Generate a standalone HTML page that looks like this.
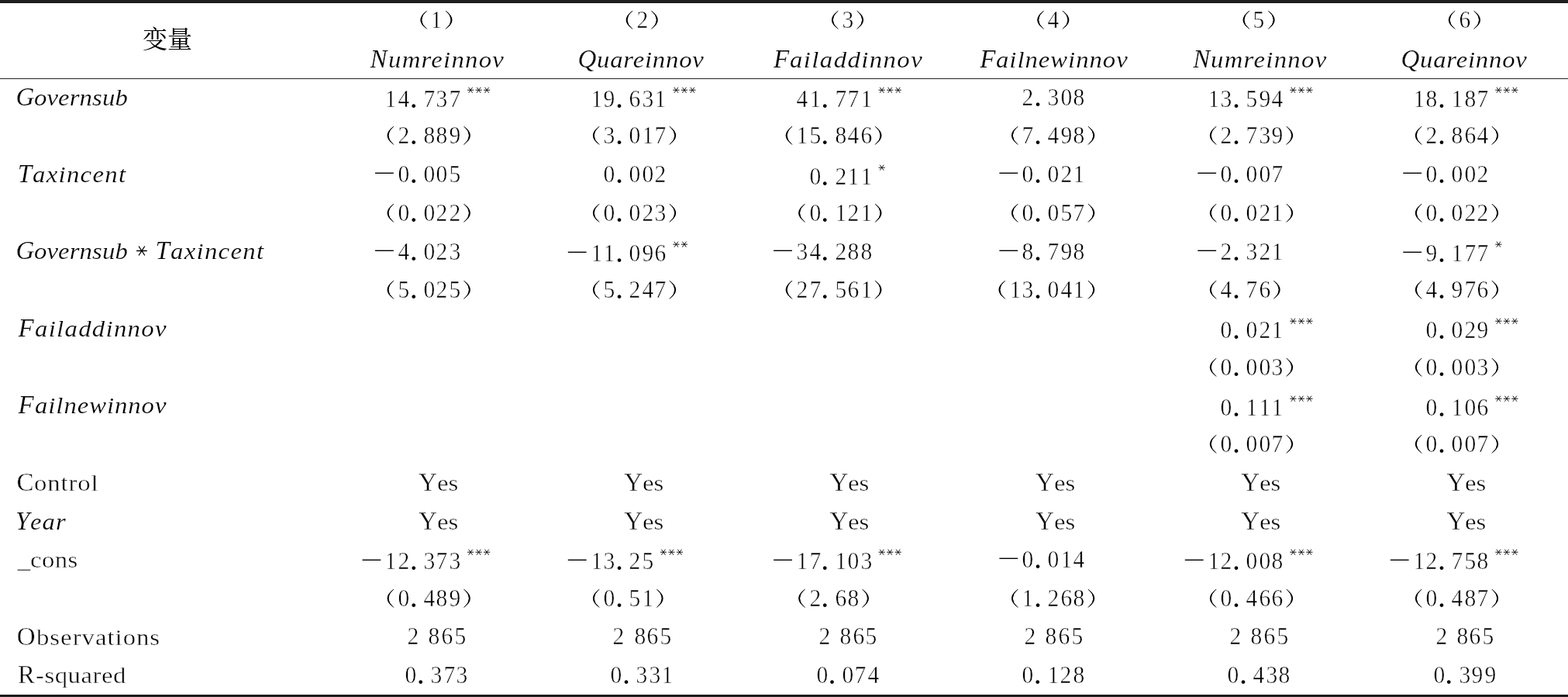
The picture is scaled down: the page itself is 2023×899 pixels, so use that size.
<!DOCTYPE html>
<html><head><meta charset="utf-8"><title>Regression results</title>
<style>
html,body{margin:0;padding:0;background:#fff}
body{position:relative;width:2023px;height:899px;overflow:hidden;font-family:"Liberation Serif",serif;color:#000}
.d,.t,.s,.bar{position:absolute;display:block}
.d{width:40px;text-align:center;white-space:pre;font-family:"Liberation Serif",serif;font-size:32.4px;line-height:32.4px;transform:scaleX(0.91)}
.t{white-space:pre;font-family:"Liberation Serif",serif;font-size:33px;line-height:33px}
.bar{background:#000}
.lc{font-size:30.0px;display:inline-block;transform:scaleX(1.09);transform-origin:0 50%}
.s{overflow:visible}
.k{fill:none;stroke:#000;stroke-linecap:round}
#w{position:absolute;left:0;top:0;width:2023px;height:899px;will-change:transform}
.d{-webkit-text-stroke:0.5px #fff}
.t{-webkit-text-stroke:0.45px #fff}
.i{font-style:italic;-webkit-text-stroke:0.2px #fff}
.p{-webkit-text-stroke:0;font-size:40.0px;line-height:40.0px;transform:none}
</style></head><body><div id="w">
<i class="bar" style="left:0;top:0;width:2023px;height:3px;background:#202020"></i>
<i class="bar" style="left:0;top:3px;width:2023px;height:1px;background:#101010"></i>
<i class="bar" style="left:0;top:4px;width:2023px;height:1px;background:#f4f4f4"></i>
<i class="bar" style="left:0;top:100.6px;width:2023px;height:1.3px;background:#222"></i>
<i class="bar" style="left:0;top:895px;width:2023px;height:1px;background:#f4f4f4"></i>
<i class="bar" style="left:0;top:896px;width:2023px;height:1px;background:#101010"></i>
<i class="bar" style="left:0;top:897px;width:2023px;height:2px;background:#202020"></i>
<span class="d" style="left:543.20px;top:9.10px">1</span>
<span class="d" style="left:808.50px;top:9.10px">2</span>
<span class="d" style="left:1073.80px;top:9.10px">3</span>
<span class="d" style="left:1339.10px;top:9.10px">4</span>
<span class="d" style="left:1604.40px;top:9.10px">5</span>
<span class="d" style="left:1869.70px;top:9.10px">6</span>
<span class="t i" style="left:477.48px;top:60.30px;letter-spacing:1.172px;">N<span class="lc">umreinnov</span></span>
<span class="t i" style="left:745.44px;top:60.30px;letter-spacing:0.741px;">Q<span class="lc">uareinnov</span></span>
<span class="t i" style="left:997.92px;top:60.30px;letter-spacing:1.324px;">F<span class="lc">ailaddinnov</span></span>
<span class="t i" style="left:1264.22px;top:60.30px;letter-spacing:0.901px;">F<span class="lc">ailnewinnov</span></span>
<span class="t i" style="left:1539.17px;top:60.30px;letter-spacing:1.213px;">N<span class="lc">umreinnov</span></span>
<span class="t i" style="left:1807.44px;top:60.30px;letter-spacing:0.741px;">Q<span class="lc">uareinnov</span></span>
<span class="t i" style="left:20.47px;top:109.30px;letter-spacing:0.113px;">G<span class="lc">overnsub</span></span>
<span class="d" style="left:484.40px;top:111.00px">1</span>
<span class="d" style="left:500.90px;top:111.00px">4</span>
<span class="d p" style="left:513.70px;top:105.60px">.</span>
<span class="d" style="left:533.90px;top:111.00px">7</span>
<span class="d" style="left:550.40px;top:111.00px">3</span>
<span class="d" style="left:566.90px;top:111.00px">7</span>
<span class="d" style="left:749.70px;top:111.00px">1</span>
<span class="d" style="left:766.20px;top:111.00px">9</span>
<span class="d p" style="left:779.00px;top:105.60px">.</span>
<span class="d" style="left:799.20px;top:111.00px">6</span>
<span class="d" style="left:815.70px;top:111.00px">3</span>
<span class="d" style="left:832.20px;top:111.00px">1</span>
<span class="d" style="left:1015.00px;top:111.00px">4</span>
<span class="d" style="left:1031.50px;top:111.00px">1</span>
<span class="d p" style="left:1044.30px;top:105.60px">.</span>
<span class="d" style="left:1064.50px;top:111.00px">7</span>
<span class="d" style="left:1081.00px;top:111.00px">7</span>
<span class="d" style="left:1097.50px;top:111.00px">1</span>
<span class="d" style="left:1306.30px;top:109.00px">2</span>
<span class="d p" style="left:1319.10px;top:103.60px">.</span>
<span class="d" style="left:1339.30px;top:109.00px">3</span>
<span class="d" style="left:1355.80px;top:109.00px">0</span>
<span class="d" style="left:1372.30px;top:109.00px">8</span>
<span class="d" style="left:1545.70px;top:111.00px">1</span>
<span class="d" style="left:1562.20px;top:111.00px">3</span>
<span class="d p" style="left:1575.00px;top:105.60px">.</span>
<span class="d" style="left:1595.20px;top:111.00px">5</span>
<span class="d" style="left:1611.70px;top:111.00px">9</span>
<span class="d" style="left:1628.20px;top:111.00px">4</span>
<span class="d" style="left:1810.70px;top:111.00px">1</span>
<span class="d" style="left:1827.20px;top:111.00px">8</span>
<span class="d p" style="left:1840.00px;top:105.60px">.</span>
<span class="d" style="left:1860.20px;top:111.00px">1</span>
<span class="d" style="left:1876.70px;top:111.00px">8</span>
<span class="d" style="left:1893.20px;top:111.00px">7</span>
<span class="d" style="left:500.90px;top:158.00px">2</span>
<span class="d p" style="left:513.70px;top:152.60px">.</span>
<span class="d" style="left:533.90px;top:158.00px">8</span>
<span class="d" style="left:550.40px;top:158.00px">8</span>
<span class="d" style="left:566.90px;top:158.00px">9</span>
<span class="d" style="left:766.20px;top:158.00px">3</span>
<span class="d p" style="left:779.00px;top:152.60px">.</span>
<span class="d" style="left:799.20px;top:158.00px">0</span>
<span class="d" style="left:815.70px;top:158.00px">1</span>
<span class="d" style="left:832.20px;top:158.00px">7</span>
<span class="d" style="left:1015.00px;top:158.00px">1</span>
<span class="d" style="left:1031.50px;top:158.00px">5</span>
<span class="d p" style="left:1044.30px;top:152.60px">.</span>
<span class="d" style="left:1064.50px;top:158.00px">8</span>
<span class="d" style="left:1081.00px;top:158.00px">4</span>
<span class="d" style="left:1097.50px;top:158.00px">6</span>
<span class="d" style="left:1306.30px;top:158.00px">7</span>
<span class="d p" style="left:1319.10px;top:152.60px">.</span>
<span class="d" style="left:1339.30px;top:158.00px">4</span>
<span class="d" style="left:1355.80px;top:158.00px">9</span>
<span class="d" style="left:1372.30px;top:158.00px">8</span>
<span class="d" style="left:1562.20px;top:158.00px">2</span>
<span class="d p" style="left:1575.00px;top:152.60px">.</span>
<span class="d" style="left:1595.20px;top:158.00px">7</span>
<span class="d" style="left:1611.70px;top:158.00px">3</span>
<span class="d" style="left:1628.20px;top:158.00px">9</span>
<span class="d" style="left:1827.20px;top:158.00px">2</span>
<span class="d p" style="left:1840.00px;top:152.60px">.</span>
<span class="d" style="left:1860.20px;top:158.00px">8</span>
<span class="d" style="left:1876.70px;top:158.00px">6</span>
<span class="d" style="left:1893.20px;top:158.00px">4</span>
<span class="t i" style="left:22.67px;top:208.00px;letter-spacing:1.221px;">T<span class="lc">axincent</span></span>
<span class="d" style="left:500.90px;top:208.00px">0</span>
<span class="d p" style="left:513.70px;top:202.60px">.</span>
<span class="d" style="left:533.90px;top:208.00px">0</span>
<span class="d" style="left:550.40px;top:208.00px">0</span>
<span class="d" style="left:566.90px;top:208.00px">5</span>
<span class="d" style="left:766.20px;top:208.00px">0</span>
<span class="d p" style="left:779.00px;top:202.60px">.</span>
<span class="d" style="left:799.20px;top:208.00px">0</span>
<span class="d" style="left:815.70px;top:208.00px">0</span>
<span class="d" style="left:832.20px;top:208.00px">2</span>
<span class="d" style="left:1031.50px;top:211.00px">0</span>
<span class="d p" style="left:1044.30px;top:205.60px">.</span>
<span class="d" style="left:1064.50px;top:211.00px">2</span>
<span class="d" style="left:1081.00px;top:211.00px">1</span>
<span class="d" style="left:1097.50px;top:211.00px">1</span>
<span class="d" style="left:1306.30px;top:208.00px">0</span>
<span class="d p" style="left:1319.10px;top:202.60px">.</span>
<span class="d" style="left:1339.30px;top:208.00px">0</span>
<span class="d" style="left:1355.80px;top:208.00px">2</span>
<span class="d" style="left:1372.30px;top:208.00px">1</span>
<span class="d" style="left:1562.20px;top:208.00px">0</span>
<span class="d p" style="left:1575.00px;top:202.60px">.</span>
<span class="d" style="left:1595.20px;top:208.00px">0</span>
<span class="d" style="left:1611.70px;top:208.00px">0</span>
<span class="d" style="left:1628.20px;top:208.00px">7</span>
<span class="d" style="left:1827.20px;top:208.00px">0</span>
<span class="d p" style="left:1840.00px;top:202.60px">.</span>
<span class="d" style="left:1860.20px;top:208.00px">0</span>
<span class="d" style="left:1876.70px;top:208.00px">0</span>
<span class="d" style="left:1893.20px;top:208.00px">2</span>
<span class="d" style="left:500.90px;top:258.00px">0</span>
<span class="d p" style="left:513.70px;top:252.60px">.</span>
<span class="d" style="left:533.90px;top:258.00px">0</span>
<span class="d" style="left:550.40px;top:258.00px">2</span>
<span class="d" style="left:566.90px;top:258.00px">2</span>
<span class="d" style="left:766.20px;top:258.00px">0</span>
<span class="d p" style="left:779.00px;top:252.60px">.</span>
<span class="d" style="left:799.20px;top:258.00px">0</span>
<span class="d" style="left:815.70px;top:258.00px">2</span>
<span class="d" style="left:832.20px;top:258.00px">3</span>
<span class="d" style="left:1031.50px;top:258.00px">0</span>
<span class="d p" style="left:1044.30px;top:252.60px">.</span>
<span class="d" style="left:1064.50px;top:258.00px">1</span>
<span class="d" style="left:1081.00px;top:258.00px">2</span>
<span class="d" style="left:1097.50px;top:258.00px">1</span>
<span class="d" style="left:1306.30px;top:258.00px">0</span>
<span class="d p" style="left:1319.10px;top:252.60px">.</span>
<span class="d" style="left:1339.30px;top:258.00px">0</span>
<span class="d" style="left:1355.80px;top:258.00px">5</span>
<span class="d" style="left:1372.30px;top:258.00px">7</span>
<span class="d" style="left:1562.20px;top:258.00px">0</span>
<span class="d p" style="left:1575.00px;top:252.60px">.</span>
<span class="d" style="left:1595.20px;top:258.00px">0</span>
<span class="d" style="left:1611.70px;top:258.00px">2</span>
<span class="d" style="left:1628.20px;top:258.00px">1</span>
<span class="d" style="left:1827.20px;top:258.00px">0</span>
<span class="d p" style="left:1840.00px;top:252.60px">.</span>
<span class="d" style="left:1860.20px;top:258.00px">0</span>
<span class="d" style="left:1876.70px;top:258.00px">2</span>
<span class="d" style="left:1893.20px;top:258.00px">2</span>
<span class="t i" style="left:20.47px;top:307.10px;letter-spacing:0.113px;">G<span class="lc">overnsub</span></span>
<span class="t i" style="left:200.51px;top:307.10px;letter-spacing:1.209px;">T<span class="lc">axincent</span></span>
<span class="d" style="left:500.90px;top:308.00px">4</span>
<span class="d p" style="left:513.70px;top:302.60px">.</span>
<span class="d" style="left:533.90px;top:308.00px">0</span>
<span class="d" style="left:550.40px;top:308.00px">2</span>
<span class="d" style="left:566.90px;top:308.00px">3</span>
<span class="d" style="left:749.70px;top:310.00px">1</span>
<span class="d" style="left:766.20px;top:310.00px">1</span>
<span class="d p" style="left:779.00px;top:304.60px">.</span>
<span class="d" style="left:799.20px;top:310.00px">0</span>
<span class="d" style="left:815.70px;top:310.00px">9</span>
<span class="d" style="left:832.20px;top:310.00px">6</span>
<span class="d" style="left:1015.00px;top:308.00px">3</span>
<span class="d" style="left:1031.50px;top:308.00px">4</span>
<span class="d p" style="left:1044.30px;top:302.60px">.</span>
<span class="d" style="left:1064.50px;top:308.00px">2</span>
<span class="d" style="left:1081.00px;top:308.00px">8</span>
<span class="d" style="left:1097.50px;top:308.00px">8</span>
<span class="d" style="left:1306.30px;top:308.00px">8</span>
<span class="d p" style="left:1319.10px;top:302.60px">.</span>
<span class="d" style="left:1339.30px;top:308.00px">7</span>
<span class="d" style="left:1355.80px;top:308.00px">9</span>
<span class="d" style="left:1372.30px;top:308.00px">8</span>
<span class="d" style="left:1562.20px;top:308.00px">2</span>
<span class="d p" style="left:1575.00px;top:302.60px">.</span>
<span class="d" style="left:1595.20px;top:308.00px">3</span>
<span class="d" style="left:1611.70px;top:308.00px">2</span>
<span class="d" style="left:1628.20px;top:308.00px">1</span>
<span class="d" style="left:1827.20px;top:310.00px">9</span>
<span class="d p" style="left:1840.00px;top:304.60px">.</span>
<span class="d" style="left:1860.20px;top:310.00px">1</span>
<span class="d" style="left:1876.70px;top:310.00px">7</span>
<span class="d" style="left:1893.20px;top:310.00px">7</span>
<span class="d" style="left:500.90px;top:357.00px">5</span>
<span class="d p" style="left:513.70px;top:351.60px">.</span>
<span class="d" style="left:533.90px;top:357.00px">0</span>
<span class="d" style="left:550.40px;top:357.00px">2</span>
<span class="d" style="left:566.90px;top:357.00px">5</span>
<span class="d" style="left:766.20px;top:357.00px">5</span>
<span class="d p" style="left:779.00px;top:351.60px">.</span>
<span class="d" style="left:799.20px;top:357.00px">2</span>
<span class="d" style="left:815.70px;top:357.00px">4</span>
<span class="d" style="left:832.20px;top:357.00px">7</span>
<span class="d" style="left:1015.00px;top:357.00px">2</span>
<span class="d" style="left:1031.50px;top:357.00px">7</span>
<span class="d p" style="left:1044.30px;top:351.60px">.</span>
<span class="d" style="left:1064.50px;top:357.00px">5</span>
<span class="d" style="left:1081.00px;top:357.00px">6</span>
<span class="d" style="left:1097.50px;top:357.00px">1</span>
<span class="d" style="left:1289.80px;top:357.00px">1</span>
<span class="d" style="left:1306.30px;top:357.00px">3</span>
<span class="d p" style="left:1319.10px;top:351.60px">.</span>
<span class="d" style="left:1339.30px;top:357.00px">0</span>
<span class="d" style="left:1355.80px;top:357.00px">4</span>
<span class="d" style="left:1372.30px;top:357.00px">1</span>
<span class="d" style="left:1562.20px;top:357.00px">4</span>
<span class="d p" style="left:1575.00px;top:351.60px">.</span>
<span class="d" style="left:1595.20px;top:357.00px">7</span>
<span class="d" style="left:1611.70px;top:357.00px">6</span>
<span class="d" style="left:1827.20px;top:357.00px">4</span>
<span class="d p" style="left:1840.00px;top:351.60px">.</span>
<span class="d" style="left:1860.20px;top:357.00px">9</span>
<span class="d" style="left:1876.70px;top:357.00px">7</span>
<span class="d" style="left:1893.20px;top:357.00px">6</span>
<span class="t i" style="left:23.55px;top:406.90px;letter-spacing:1.217px;">F<span class="lc">ailaddinnov</span></span>
<span class="d" style="left:1562.20px;top:409.00px">0</span>
<span class="d p" style="left:1575.00px;top:403.60px">.</span>
<span class="d" style="left:1595.20px;top:409.00px">0</span>
<span class="d" style="left:1611.70px;top:409.00px">2</span>
<span class="d" style="left:1628.20px;top:409.00px">1</span>
<span class="d" style="left:1827.20px;top:409.00px">0</span>
<span class="d p" style="left:1840.00px;top:403.60px">.</span>
<span class="d" style="left:1860.20px;top:409.00px">0</span>
<span class="d" style="left:1876.70px;top:409.00px">2</span>
<span class="d" style="left:1893.20px;top:409.00px">9</span>
<span class="d" style="left:1562.20px;top:457.00px">0</span>
<span class="d p" style="left:1575.00px;top:451.60px">.</span>
<span class="d" style="left:1595.20px;top:457.00px">0</span>
<span class="d" style="left:1611.70px;top:457.00px">0</span>
<span class="d" style="left:1628.20px;top:457.00px">3</span>
<span class="d" style="left:1827.20px;top:457.00px">0</span>
<span class="d p" style="left:1840.00px;top:451.60px">.</span>
<span class="d" style="left:1860.20px;top:457.00px">0</span>
<span class="d" style="left:1876.70px;top:457.00px">0</span>
<span class="d" style="left:1893.20px;top:457.00px">3</span>
<span class="t i" style="left:23.55px;top:505.90px;letter-spacing:0.880px;">F<span class="lc">ailnewinnov</span></span>
<span class="d" style="left:1562.20px;top:509.00px">0</span>
<span class="d p" style="left:1575.00px;top:503.60px">.</span>
<span class="d" style="left:1595.20px;top:509.00px">1</span>
<span class="d" style="left:1611.70px;top:509.00px">1</span>
<span class="d" style="left:1628.20px;top:509.00px">1</span>
<span class="d" style="left:1827.20px;top:509.00px">0</span>
<span class="d p" style="left:1840.00px;top:503.60px">.</span>
<span class="d" style="left:1860.20px;top:509.00px">1</span>
<span class="d" style="left:1876.70px;top:509.00px">0</span>
<span class="d" style="left:1893.20px;top:509.00px">6</span>
<span class="d" style="left:1562.20px;top:556.00px">0</span>
<span class="d p" style="left:1575.00px;top:550.60px">.</span>
<span class="d" style="left:1595.20px;top:556.00px">0</span>
<span class="d" style="left:1611.70px;top:556.00px">0</span>
<span class="d" style="left:1628.20px;top:556.00px">7</span>
<span class="d" style="left:1827.20px;top:556.00px">0</span>
<span class="d p" style="left:1840.00px;top:550.60px">.</span>
<span class="d" style="left:1860.20px;top:556.00px">0</span>
<span class="d" style="left:1876.70px;top:556.00px">0</span>
<span class="d" style="left:1893.20px;top:556.00px">7</span>
<span class="t" style="left:21.41px;top:605.90px;letter-spacing:0.842px;">C<span class="lc">ontrol</span></span>
<span class="t" style="left:539.98px;top:606.10px;letter-spacing:0.026px;">Y<span class="lc">es</span></span>
<span class="t" style="left:805.28px;top:606.10px;letter-spacing:0.026px;">Y<span class="lc">es</span></span>
<span class="t" style="left:1070.58px;top:606.10px;letter-spacing:0.026px;">Y<span class="lc">es</span></span>
<span class="t" style="left:1335.88px;top:606.10px;letter-spacing:0.026px;">Y<span class="lc">es</span></span>
<span class="t" style="left:1601.18px;top:606.10px;letter-spacing:0.026px;">Y<span class="lc">es</span></span>
<span class="t" style="left:1866.48px;top:606.10px;letter-spacing:0.026px;">Y<span class="lc">es</span></span>
<span class="t i" style="left:20.02px;top:655.90px;letter-spacing:0.995px;">Y<span class="lc">ear</span></span>
<span class="t" style="left:539.98px;top:655.78px;letter-spacing:0.026px;">Y<span class="lc">es</span></span>
<span class="t" style="left:805.28px;top:655.78px;letter-spacing:0.026px;">Y<span class="lc">es</span></span>
<span class="t" style="left:1070.58px;top:655.78px;letter-spacing:0.026px;">Y<span class="lc">es</span></span>
<span class="t" style="left:1335.88px;top:655.78px;letter-spacing:0.026px;">Y<span class="lc">es</span></span>
<span class="t" style="left:1601.18px;top:655.78px;letter-spacing:0.026px;">Y<span class="lc">es</span></span>
<span class="t" style="left:1866.48px;top:655.78px;letter-spacing:0.026px;">Y<span class="lc">es</span></span>
<span class="t" style="left:22.42px;top:704.70px;letter-spacing:0.402px;">_<span class="lc">cons</span></span>
<span class="d" style="left:484.40px;top:707.00px">1</span>
<span class="d" style="left:500.90px;top:707.00px">2</span>
<span class="d p" style="left:513.70px;top:701.60px">.</span>
<span class="d" style="left:533.90px;top:707.00px">3</span>
<span class="d" style="left:550.40px;top:707.00px">7</span>
<span class="d" style="left:566.90px;top:707.00px">3</span>
<span class="d" style="left:749.70px;top:707.00px">1</span>
<span class="d" style="left:766.20px;top:707.00px">3</span>
<span class="d p" style="left:779.00px;top:701.60px">.</span>
<span class="d" style="left:799.20px;top:707.00px">2</span>
<span class="d" style="left:815.70px;top:707.00px">5</span>
<span class="d" style="left:1015.00px;top:707.00px">1</span>
<span class="d" style="left:1031.50px;top:707.00px">7</span>
<span class="d p" style="left:1044.30px;top:701.60px">.</span>
<span class="d" style="left:1064.50px;top:707.00px">1</span>
<span class="d" style="left:1081.00px;top:707.00px">0</span>
<span class="d" style="left:1097.50px;top:707.00px">3</span>
<span class="d" style="left:1306.30px;top:705.00px">0</span>
<span class="d p" style="left:1319.10px;top:699.60px">.</span>
<span class="d" style="left:1339.30px;top:705.00px">0</span>
<span class="d" style="left:1355.80px;top:705.00px">1</span>
<span class="d" style="left:1372.30px;top:705.00px">4</span>
<span class="d" style="left:1545.70px;top:707.00px">1</span>
<span class="d" style="left:1562.20px;top:707.00px">2</span>
<span class="d p" style="left:1575.00px;top:701.60px">.</span>
<span class="d" style="left:1595.20px;top:707.00px">0</span>
<span class="d" style="left:1611.70px;top:707.00px">0</span>
<span class="d" style="left:1628.20px;top:707.00px">8</span>
<span class="d" style="left:1810.70px;top:707.00px">1</span>
<span class="d" style="left:1827.20px;top:707.00px">2</span>
<span class="d p" style="left:1840.00px;top:701.60px">.</span>
<span class="d" style="left:1860.20px;top:707.00px">7</span>
<span class="d" style="left:1876.70px;top:707.00px">5</span>
<span class="d" style="left:1893.20px;top:707.00px">8</span>
<span class="d" style="left:500.90px;top:755.00px">0</span>
<span class="d p" style="left:513.70px;top:749.60px">.</span>
<span class="d" style="left:533.90px;top:755.00px">4</span>
<span class="d" style="left:550.40px;top:755.00px">8</span>
<span class="d" style="left:566.90px;top:755.00px">9</span>
<span class="d" style="left:766.20px;top:755.00px">0</span>
<span class="d p" style="left:779.00px;top:749.60px">.</span>
<span class="d" style="left:799.20px;top:755.00px">5</span>
<span class="d" style="left:815.70px;top:755.00px">1</span>
<span class="d" style="left:1031.50px;top:755.00px">2</span>
<span class="d p" style="left:1044.30px;top:749.60px">.</span>
<span class="d" style="left:1064.50px;top:755.00px">6</span>
<span class="d" style="left:1081.00px;top:755.00px">8</span>
<span class="d" style="left:1306.30px;top:755.00px">1</span>
<span class="d p" style="left:1319.10px;top:749.60px">.</span>
<span class="d" style="left:1339.30px;top:755.00px">2</span>
<span class="d" style="left:1355.80px;top:755.00px">6</span>
<span class="d" style="left:1372.30px;top:755.00px">8</span>
<span class="d" style="left:1562.20px;top:755.00px">0</span>
<span class="d p" style="left:1575.00px;top:749.60px">.</span>
<span class="d" style="left:1595.20px;top:755.00px">4</span>
<span class="d" style="left:1611.70px;top:755.00px">6</span>
<span class="d" style="left:1628.20px;top:755.00px">6</span>
<span class="d" style="left:1827.20px;top:755.00px">0</span>
<span class="d p" style="left:1840.00px;top:749.60px">.</span>
<span class="d" style="left:1860.20px;top:755.00px">4</span>
<span class="d" style="left:1876.70px;top:755.00px">8</span>
<span class="d" style="left:1893.20px;top:755.00px">7</span>
<span class="t" style="left:21.74px;top:804.80px;letter-spacing:0.931px;">O<span class="lc">bservations</span></span>
<span class="d" style="left:513.00px;top:804.32px">2</span>
<span class="d" style="left:540.20px;top:804.32px">8</span>
<span class="d" style="left:556.90px;top:804.32px">6</span>
<span class="d" style="left:573.70px;top:804.32px">5</span>
<span class="d" style="left:778.30px;top:804.32px">2</span>
<span class="d" style="left:805.50px;top:804.32px">8</span>
<span class="d" style="left:822.20px;top:804.32px">6</span>
<span class="d" style="left:839.00px;top:804.32px">5</span>
<span class="d" style="left:1043.60px;top:804.32px">2</span>
<span class="d" style="left:1070.80px;top:804.32px">8</span>
<span class="d" style="left:1087.50px;top:804.32px">6</span>
<span class="d" style="left:1104.30px;top:804.32px">5</span>
<span class="d" style="left:1308.90px;top:804.32px">2</span>
<span class="d" style="left:1336.10px;top:804.32px">8</span>
<span class="d" style="left:1352.80px;top:804.32px">6</span>
<span class="d" style="left:1369.60px;top:804.32px">5</span>
<span class="d" style="left:1574.20px;top:804.32px">2</span>
<span class="d" style="left:1601.40px;top:804.32px">8</span>
<span class="d" style="left:1618.10px;top:804.32px">6</span>
<span class="d" style="left:1634.90px;top:804.32px">5</span>
<span class="d" style="left:1839.50px;top:804.32px">2</span>
<span class="d" style="left:1866.70px;top:804.32px">8</span>
<span class="d" style="left:1883.40px;top:804.32px">6</span>
<span class="d" style="left:1900.20px;top:804.32px">5</span>
<span class="t" style="left:23.11px;top:854.20px;letter-spacing:0.489px;">R<span class="lc">-squared</span></span>
<span class="d" style="left:510.00px;top:854.00px">0</span>
<span class="d p" style="left:522.80px;top:848.60px">.</span>
<span class="d" style="left:543.00px;top:854.00px">3</span>
<span class="d" style="left:559.50px;top:854.00px">7</span>
<span class="d" style="left:576.00px;top:854.00px">3</span>
<span class="d" style="left:775.30px;top:854.00px">0</span>
<span class="d p" style="left:788.10px;top:848.60px">.</span>
<span class="d" style="left:808.30px;top:854.00px">3</span>
<span class="d" style="left:824.80px;top:854.00px">3</span>
<span class="d" style="left:841.30px;top:854.00px">1</span>
<span class="d" style="left:1040.60px;top:854.00px">0</span>
<span class="d p" style="left:1053.40px;top:848.60px">.</span>
<span class="d" style="left:1073.60px;top:854.00px">0</span>
<span class="d" style="left:1090.10px;top:854.00px">7</span>
<span class="d" style="left:1106.60px;top:854.00px">4</span>
<span class="d" style="left:1305.90px;top:854.00px">0</span>
<span class="d p" style="left:1318.70px;top:848.60px">.</span>
<span class="d" style="left:1338.90px;top:854.00px">1</span>
<span class="d" style="left:1355.40px;top:854.00px">2</span>
<span class="d" style="left:1371.90px;top:854.00px">8</span>
<span class="d" style="left:1571.20px;top:854.00px">0</span>
<span class="d p" style="left:1584.00px;top:848.60px">.</span>
<span class="d" style="left:1604.20px;top:854.00px">4</span>
<span class="d" style="left:1620.70px;top:854.00px">3</span>
<span class="d" style="left:1637.20px;top:854.00px">8</span>
<span class="d" style="left:1836.50px;top:854.00px">0</span>
<span class="d p" style="left:1849.30px;top:848.60px">.</span>
<span class="d" style="left:1869.50px;top:854.00px">3</span>
<span class="d" style="left:1886.00px;top:854.00px">9</span>
<span class="d" style="left:1902.50px;top:854.00px">9</span>
<svg class="s" style="left:0;top:0" width="2023" height="899" viewBox="0 0 2023 899" fill="#000">
<text x="183.9" y="62.3" font-size="32" fill="#000" font-family="&quot;Liberation Serif&quot;, &quot;Noto Serif CJK SC&quot;, serif">变量</text>
<g transform="translate(542.35,13.65)"><path d="M8.05 0.3Q-8.05 12.00 8.05 23.70Q-4.05 12.00 8.05 0.3Z"/><path d="M8.05 0.45Q-6.05 12.00 8.05 23.55" class="k" stroke-width="0.9"/></g>
<g transform="translate(583.45,13.65) scale(-1,1)"><path d="M8.05 0.3Q-8.05 12.00 8.05 23.70Q-4.05 12.00 8.05 0.3Z"/><path d="M8.05 0.45Q-6.05 12.00 8.05 23.55" class="k" stroke-width="0.9"/></g>
<g transform="translate(807.65,13.65)"><path d="M8.05 0.3Q-8.05 12.00 8.05 23.70Q-4.05 12.00 8.05 0.3Z"/><path d="M8.05 0.45Q-6.05 12.00 8.05 23.55" class="k" stroke-width="0.9"/></g>
<g transform="translate(848.75,13.65) scale(-1,1)"><path d="M8.05 0.3Q-8.05 12.00 8.05 23.70Q-4.05 12.00 8.05 0.3Z"/><path d="M8.05 0.45Q-6.05 12.00 8.05 23.55" class="k" stroke-width="0.9"/></g>
<g transform="translate(1072.95,13.65)"><path d="M8.05 0.3Q-8.05 12.00 8.05 23.70Q-4.05 12.00 8.05 0.3Z"/><path d="M8.05 0.45Q-6.05 12.00 8.05 23.55" class="k" stroke-width="0.9"/></g>
<g transform="translate(1114.05,13.65) scale(-1,1)"><path d="M8.05 0.3Q-8.05 12.00 8.05 23.70Q-4.05 12.00 8.05 0.3Z"/><path d="M8.05 0.45Q-6.05 12.00 8.05 23.55" class="k" stroke-width="0.9"/></g>
<g transform="translate(1338.25,13.65)"><path d="M8.05 0.3Q-8.05 12.00 8.05 23.70Q-4.05 12.00 8.05 0.3Z"/><path d="M8.05 0.45Q-6.05 12.00 8.05 23.55" class="k" stroke-width="0.9"/></g>
<g transform="translate(1379.35,13.65) scale(-1,1)"><path d="M8.05 0.3Q-8.05 12.00 8.05 23.70Q-4.05 12.00 8.05 0.3Z"/><path d="M8.05 0.45Q-6.05 12.00 8.05 23.55" class="k" stroke-width="0.9"/></g>
<g transform="translate(1603.55,13.65)"><path d="M8.05 0.3Q-8.05 12.00 8.05 23.70Q-4.05 12.00 8.05 0.3Z"/><path d="M8.05 0.45Q-6.05 12.00 8.05 23.55" class="k" stroke-width="0.9"/></g>
<g transform="translate(1644.65,13.65) scale(-1,1)"><path d="M8.05 0.3Q-8.05 12.00 8.05 23.70Q-4.05 12.00 8.05 0.3Z"/><path d="M8.05 0.45Q-6.05 12.00 8.05 23.55" class="k" stroke-width="0.9"/></g>
<g transform="translate(1868.85,13.65)"><path d="M8.05 0.3Q-8.05 12.00 8.05 23.70Q-4.05 12.00 8.05 0.3Z"/><path d="M8.05 0.45Q-6.05 12.00 8.05 23.55" class="k" stroke-width="0.9"/></g>
<g transform="translate(1909.95,13.65) scale(-1,1)"><path d="M8.05 0.3Q-8.05 12.00 8.05 23.70Q-4.05 12.00 8.05 0.3Z"/><path d="M8.05 0.45Q-6.05 12.00 8.05 23.55" class="k" stroke-width="0.9"/></g>
<path class="k" stroke-width="0.9" transform="translate(607.10,116.20)" d="M-3.75 0H3.75M-2.3 -3.25L2.3 3.25M2.3 -3.25L-2.3 3.25"/>
<path class="k" stroke-width="0.9" transform="translate(617.60,116.20)" d="M-3.75 0H3.75M-2.3 -3.25L2.3 3.25M2.3 -3.25L-2.3 3.25"/>
<path class="k" stroke-width="0.9" transform="translate(628.10,116.20)" d="M-3.75 0H3.75M-2.3 -3.25L2.3 3.25M2.3 -3.25L-2.3 3.25"/>
<path class="k" stroke-width="0.9" transform="translate(872.40,116.20)" d="M-3.75 0H3.75M-2.3 -3.25L2.3 3.25M2.3 -3.25L-2.3 3.25"/>
<path class="k" stroke-width="0.9" transform="translate(882.90,116.20)" d="M-3.75 0H3.75M-2.3 -3.25L2.3 3.25M2.3 -3.25L-2.3 3.25"/>
<path class="k" stroke-width="0.9" transform="translate(893.40,116.20)" d="M-3.75 0H3.75M-2.3 -3.25L2.3 3.25M2.3 -3.25L-2.3 3.25"/>
<path class="k" stroke-width="0.9" transform="translate(1137.70,116.20)" d="M-3.75 0H3.75M-2.3 -3.25L2.3 3.25M2.3 -3.25L-2.3 3.25"/>
<path class="k" stroke-width="0.9" transform="translate(1148.20,116.20)" d="M-3.75 0H3.75M-2.3 -3.25L2.3 3.25M2.3 -3.25L-2.3 3.25"/>
<path class="k" stroke-width="0.9" transform="translate(1158.70,116.20)" d="M-3.75 0H3.75M-2.3 -3.25L2.3 3.25M2.3 -3.25L-2.3 3.25"/>
<path class="k" stroke-width="0.9" transform="translate(1668.40,116.20)" d="M-3.75 0H3.75M-2.3 -3.25L2.3 3.25M2.3 -3.25L-2.3 3.25"/>
<path class="k" stroke-width="0.9" transform="translate(1678.90,116.20)" d="M-3.75 0H3.75M-2.3 -3.25L2.3 3.25M2.3 -3.25L-2.3 3.25"/>
<path class="k" stroke-width="0.9" transform="translate(1689.40,116.20)" d="M-3.75 0H3.75M-2.3 -3.25L2.3 3.25M2.3 -3.25L-2.3 3.25"/>
<path class="k" stroke-width="0.9" transform="translate(1933.40,116.20)" d="M-3.75 0H3.75M-2.3 -3.25L2.3 3.25M2.3 -3.25L-2.3 3.25"/>
<path class="k" stroke-width="0.9" transform="translate(1943.90,116.20)" d="M-3.75 0H3.75M-2.3 -3.25L2.3 3.25M2.3 -3.25L-2.3 3.25"/>
<path class="k" stroke-width="0.9" transform="translate(1954.40,116.20)" d="M-3.75 0H3.75M-2.3 -3.25L2.3 3.25M2.3 -3.25L-2.3 3.25"/>
<g transform="translate(499.55,162.75)"><path d="M8.05 0.3Q-8.05 12.00 8.05 23.70Q-4.05 12.00 8.05 0.3Z"/><path d="M8.05 0.45Q-6.05 12.00 8.05 23.55" class="k" stroke-width="0.9"/></g>
<g transform="translate(606.85,162.75) scale(-1,1)"><path d="M8.05 0.3Q-8.05 12.00 8.05 23.70Q-4.05 12.00 8.05 0.3Z"/><path d="M8.05 0.45Q-6.05 12.00 8.05 23.55" class="k" stroke-width="0.9"/></g>
<g transform="translate(764.85,162.75)"><path d="M8.05 0.3Q-8.05 12.00 8.05 23.70Q-4.05 12.00 8.05 0.3Z"/><path d="M8.05 0.45Q-6.05 12.00 8.05 23.55" class="k" stroke-width="0.9"/></g>
<g transform="translate(872.15,162.75) scale(-1,1)"><path d="M8.05 0.3Q-8.05 12.00 8.05 23.70Q-4.05 12.00 8.05 0.3Z"/><path d="M8.05 0.45Q-6.05 12.00 8.05 23.55" class="k" stroke-width="0.9"/></g>
<g transform="translate(1013.65,162.75)"><path d="M8.05 0.3Q-8.05 12.00 8.05 23.70Q-4.05 12.00 8.05 0.3Z"/><path d="M8.05 0.45Q-6.05 12.00 8.05 23.55" class="k" stroke-width="0.9"/></g>
<g transform="translate(1137.45,162.75) scale(-1,1)"><path d="M8.05 0.3Q-8.05 12.00 8.05 23.70Q-4.05 12.00 8.05 0.3Z"/><path d="M8.05 0.45Q-6.05 12.00 8.05 23.55" class="k" stroke-width="0.9"/></g>
<g transform="translate(1304.95,162.75)"><path d="M8.05 0.3Q-8.05 12.00 8.05 23.70Q-4.05 12.00 8.05 0.3Z"/><path d="M8.05 0.45Q-6.05 12.00 8.05 23.55" class="k" stroke-width="0.9"/></g>
<g transform="translate(1412.25,162.75) scale(-1,1)"><path d="M8.05 0.3Q-8.05 12.00 8.05 23.70Q-4.05 12.00 8.05 0.3Z"/><path d="M8.05 0.45Q-6.05 12.00 8.05 23.55" class="k" stroke-width="0.9"/></g>
<g transform="translate(1560.85,162.75)"><path d="M8.05 0.3Q-8.05 12.00 8.05 23.70Q-4.05 12.00 8.05 0.3Z"/><path d="M8.05 0.45Q-6.05 12.00 8.05 23.55" class="k" stroke-width="0.9"/></g>
<g transform="translate(1668.15,162.75) scale(-1,1)"><path d="M8.05 0.3Q-8.05 12.00 8.05 23.70Q-4.05 12.00 8.05 0.3Z"/><path d="M8.05 0.45Q-6.05 12.00 8.05 23.55" class="k" stroke-width="0.9"/></g>
<g transform="translate(1825.85,162.75)"><path d="M8.05 0.3Q-8.05 12.00 8.05 23.70Q-4.05 12.00 8.05 0.3Z"/><path d="M8.05 0.45Q-6.05 12.00 8.05 23.55" class="k" stroke-width="0.9"/></g>
<g transform="translate(1933.15,162.75) scale(-1,1)"><path d="M8.05 0.3Q-8.05 12.00 8.05 23.70Q-4.05 12.00 8.05 0.3Z"/><path d="M8.05 0.45Q-6.05 12.00 8.05 23.55" class="k" stroke-width="0.9"/></g>
<rect x="484.00" y="222.60" width="23.80" height="1.4"/>
<path class="k" stroke-width="0.9" transform="translate(1137.70,216.20)" d="M-3.75 0H3.75M-2.3 -3.25L2.3 3.25M2.3 -3.25L-2.3 3.25"/>
<rect x="1289.40" y="222.60" width="23.80" height="1.4"/>
<rect x="1545.30" y="222.60" width="23.80" height="1.4"/>
<rect x="1810.30" y="222.60" width="23.80" height="1.4"/>
<g transform="translate(499.55,262.75)"><path d="M8.05 0.3Q-8.05 12.00 8.05 23.70Q-4.05 12.00 8.05 0.3Z"/><path d="M8.05 0.45Q-6.05 12.00 8.05 23.55" class="k" stroke-width="0.9"/></g>
<g transform="translate(606.85,262.75) scale(-1,1)"><path d="M8.05 0.3Q-8.05 12.00 8.05 23.70Q-4.05 12.00 8.05 0.3Z"/><path d="M8.05 0.45Q-6.05 12.00 8.05 23.55" class="k" stroke-width="0.9"/></g>
<g transform="translate(764.85,262.75)"><path d="M8.05 0.3Q-8.05 12.00 8.05 23.70Q-4.05 12.00 8.05 0.3Z"/><path d="M8.05 0.45Q-6.05 12.00 8.05 23.55" class="k" stroke-width="0.9"/></g>
<g transform="translate(872.15,262.75) scale(-1,1)"><path d="M8.05 0.3Q-8.05 12.00 8.05 23.70Q-4.05 12.00 8.05 0.3Z"/><path d="M8.05 0.45Q-6.05 12.00 8.05 23.55" class="k" stroke-width="0.9"/></g>
<g transform="translate(1030.15,262.75)"><path d="M8.05 0.3Q-8.05 12.00 8.05 23.70Q-4.05 12.00 8.05 0.3Z"/><path d="M8.05 0.45Q-6.05 12.00 8.05 23.55" class="k" stroke-width="0.9"/></g>
<g transform="translate(1137.45,262.75) scale(-1,1)"><path d="M8.05 0.3Q-8.05 12.00 8.05 23.70Q-4.05 12.00 8.05 0.3Z"/><path d="M8.05 0.45Q-6.05 12.00 8.05 23.55" class="k" stroke-width="0.9"/></g>
<g transform="translate(1304.95,262.75)"><path d="M8.05 0.3Q-8.05 12.00 8.05 23.70Q-4.05 12.00 8.05 0.3Z"/><path d="M8.05 0.45Q-6.05 12.00 8.05 23.55" class="k" stroke-width="0.9"/></g>
<g transform="translate(1412.25,262.75) scale(-1,1)"><path d="M8.05 0.3Q-8.05 12.00 8.05 23.70Q-4.05 12.00 8.05 0.3Z"/><path d="M8.05 0.45Q-6.05 12.00 8.05 23.55" class="k" stroke-width="0.9"/></g>
<g transform="translate(1560.85,262.75)"><path d="M8.05 0.3Q-8.05 12.00 8.05 23.70Q-4.05 12.00 8.05 0.3Z"/><path d="M8.05 0.45Q-6.05 12.00 8.05 23.55" class="k" stroke-width="0.9"/></g>
<g transform="translate(1668.15,262.75) scale(-1,1)"><path d="M8.05 0.3Q-8.05 12.00 8.05 23.70Q-4.05 12.00 8.05 0.3Z"/><path d="M8.05 0.45Q-6.05 12.00 8.05 23.55" class="k" stroke-width="0.9"/></g>
<g transform="translate(1825.85,262.75)"><path d="M8.05 0.3Q-8.05 12.00 8.05 23.70Q-4.05 12.00 8.05 0.3Z"/><path d="M8.05 0.45Q-6.05 12.00 8.05 23.55" class="k" stroke-width="0.9"/></g>
<g transform="translate(1933.15,262.75) scale(-1,1)"><path d="M8.05 0.3Q-8.05 12.00 8.05 23.70Q-4.05 12.00 8.05 0.3Z"/><path d="M8.05 0.45Q-6.05 12.00 8.05 23.55" class="k" stroke-width="0.9"/></g>
<path class="k" stroke-width="1.35" transform="translate(182.90,323.50)" d="M-6.3 0H6.3M-3.6 -5.5L3.6 5.5M3.6 -5.5L-3.6 5.5"/>
<circle cx="182.9" cy="323.5" r="1.2"/>
<rect x="484.00" y="322.60" width="23.80" height="1.4"/>
<rect x="732.80" y="324.60" width="23.80" height="1.4"/>
<path class="k" stroke-width="0.9" transform="translate(872.40,315.20)" d="M-3.75 0H3.75M-2.3 -3.25L2.3 3.25M2.3 -3.25L-2.3 3.25"/>
<path class="k" stroke-width="0.9" transform="translate(882.90,315.20)" d="M-3.75 0H3.75M-2.3 -3.25L2.3 3.25M2.3 -3.25L-2.3 3.25"/>
<rect x="998.10" y="322.60" width="23.80" height="1.4"/>
<rect x="1289.40" y="322.60" width="23.80" height="1.4"/>
<rect x="1545.30" y="322.60" width="23.80" height="1.4"/>
<rect x="1810.30" y="324.60" width="23.80" height="1.4"/>
<path class="k" stroke-width="0.9" transform="translate(1933.40,315.20)" d="M-3.75 0H3.75M-2.3 -3.25L2.3 3.25M2.3 -3.25L-2.3 3.25"/>
<g transform="translate(499.55,361.75)"><path d="M8.05 0.3Q-8.05 12.00 8.05 23.70Q-4.05 12.00 8.05 0.3Z"/><path d="M8.05 0.45Q-6.05 12.00 8.05 23.55" class="k" stroke-width="0.9"/></g>
<g transform="translate(606.85,361.75) scale(-1,1)"><path d="M8.05 0.3Q-8.05 12.00 8.05 23.70Q-4.05 12.00 8.05 0.3Z"/><path d="M8.05 0.45Q-6.05 12.00 8.05 23.55" class="k" stroke-width="0.9"/></g>
<g transform="translate(764.85,361.75)"><path d="M8.05 0.3Q-8.05 12.00 8.05 23.70Q-4.05 12.00 8.05 0.3Z"/><path d="M8.05 0.45Q-6.05 12.00 8.05 23.55" class="k" stroke-width="0.9"/></g>
<g transform="translate(872.15,361.75) scale(-1,1)"><path d="M8.05 0.3Q-8.05 12.00 8.05 23.70Q-4.05 12.00 8.05 0.3Z"/><path d="M8.05 0.45Q-6.05 12.00 8.05 23.55" class="k" stroke-width="0.9"/></g>
<g transform="translate(1013.65,361.75)"><path d="M8.05 0.3Q-8.05 12.00 8.05 23.70Q-4.05 12.00 8.05 0.3Z"/><path d="M8.05 0.45Q-6.05 12.00 8.05 23.55" class="k" stroke-width="0.9"/></g>
<g transform="translate(1137.45,361.75) scale(-1,1)"><path d="M8.05 0.3Q-8.05 12.00 8.05 23.70Q-4.05 12.00 8.05 0.3Z"/><path d="M8.05 0.45Q-6.05 12.00 8.05 23.55" class="k" stroke-width="0.9"/></g>
<g transform="translate(1288.45,361.75)"><path d="M8.05 0.3Q-8.05 12.00 8.05 23.70Q-4.05 12.00 8.05 0.3Z"/><path d="M8.05 0.45Q-6.05 12.00 8.05 23.55" class="k" stroke-width="0.9"/></g>
<g transform="translate(1412.25,361.75) scale(-1,1)"><path d="M8.05 0.3Q-8.05 12.00 8.05 23.70Q-4.05 12.00 8.05 0.3Z"/><path d="M8.05 0.45Q-6.05 12.00 8.05 23.55" class="k" stroke-width="0.9"/></g>
<g transform="translate(1560.85,361.75)"><path d="M8.05 0.3Q-8.05 12.00 8.05 23.70Q-4.05 12.00 8.05 0.3Z"/><path d="M8.05 0.45Q-6.05 12.00 8.05 23.55" class="k" stroke-width="0.9"/></g>
<g transform="translate(1651.65,361.75) scale(-1,1)"><path d="M8.05 0.3Q-8.05 12.00 8.05 23.70Q-4.05 12.00 8.05 0.3Z"/><path d="M8.05 0.45Q-6.05 12.00 8.05 23.55" class="k" stroke-width="0.9"/></g>
<g transform="translate(1825.85,361.75)"><path d="M8.05 0.3Q-8.05 12.00 8.05 23.70Q-4.05 12.00 8.05 0.3Z"/><path d="M8.05 0.45Q-6.05 12.00 8.05 23.55" class="k" stroke-width="0.9"/></g>
<g transform="translate(1933.15,361.75) scale(-1,1)"><path d="M8.05 0.3Q-8.05 12.00 8.05 23.70Q-4.05 12.00 8.05 0.3Z"/><path d="M8.05 0.45Q-6.05 12.00 8.05 23.55" class="k" stroke-width="0.9"/></g>
<path class="k" stroke-width="0.9" transform="translate(1668.40,414.20)" d="M-3.75 0H3.75M-2.3 -3.25L2.3 3.25M2.3 -3.25L-2.3 3.25"/>
<path class="k" stroke-width="0.9" transform="translate(1678.90,414.20)" d="M-3.75 0H3.75M-2.3 -3.25L2.3 3.25M2.3 -3.25L-2.3 3.25"/>
<path class="k" stroke-width="0.9" transform="translate(1689.40,414.20)" d="M-3.75 0H3.75M-2.3 -3.25L2.3 3.25M2.3 -3.25L-2.3 3.25"/>
<path class="k" stroke-width="0.9" transform="translate(1933.40,414.20)" d="M-3.75 0H3.75M-2.3 -3.25L2.3 3.25M2.3 -3.25L-2.3 3.25"/>
<path class="k" stroke-width="0.9" transform="translate(1943.90,414.20)" d="M-3.75 0H3.75M-2.3 -3.25L2.3 3.25M2.3 -3.25L-2.3 3.25"/>
<path class="k" stroke-width="0.9" transform="translate(1954.40,414.20)" d="M-3.75 0H3.75M-2.3 -3.25L2.3 3.25M2.3 -3.25L-2.3 3.25"/>
<g transform="translate(1560.85,461.75)"><path d="M8.05 0.3Q-8.05 12.00 8.05 23.70Q-4.05 12.00 8.05 0.3Z"/><path d="M8.05 0.45Q-6.05 12.00 8.05 23.55" class="k" stroke-width="0.9"/></g>
<g transform="translate(1668.15,461.75) scale(-1,1)"><path d="M8.05 0.3Q-8.05 12.00 8.05 23.70Q-4.05 12.00 8.05 0.3Z"/><path d="M8.05 0.45Q-6.05 12.00 8.05 23.55" class="k" stroke-width="0.9"/></g>
<g transform="translate(1825.85,461.75)"><path d="M8.05 0.3Q-8.05 12.00 8.05 23.70Q-4.05 12.00 8.05 0.3Z"/><path d="M8.05 0.45Q-6.05 12.00 8.05 23.55" class="k" stroke-width="0.9"/></g>
<g transform="translate(1933.15,461.75) scale(-1,1)"><path d="M8.05 0.3Q-8.05 12.00 8.05 23.70Q-4.05 12.00 8.05 0.3Z"/><path d="M8.05 0.45Q-6.05 12.00 8.05 23.55" class="k" stroke-width="0.9"/></g>
<path class="k" stroke-width="0.9" transform="translate(1668.40,514.20)" d="M-3.75 0H3.75M-2.3 -3.25L2.3 3.25M2.3 -3.25L-2.3 3.25"/>
<path class="k" stroke-width="0.9" transform="translate(1678.90,514.20)" d="M-3.75 0H3.75M-2.3 -3.25L2.3 3.25M2.3 -3.25L-2.3 3.25"/>
<path class="k" stroke-width="0.9" transform="translate(1689.40,514.20)" d="M-3.75 0H3.75M-2.3 -3.25L2.3 3.25M2.3 -3.25L-2.3 3.25"/>
<path class="k" stroke-width="0.9" transform="translate(1933.40,514.20)" d="M-3.75 0H3.75M-2.3 -3.25L2.3 3.25M2.3 -3.25L-2.3 3.25"/>
<path class="k" stroke-width="0.9" transform="translate(1943.90,514.20)" d="M-3.75 0H3.75M-2.3 -3.25L2.3 3.25M2.3 -3.25L-2.3 3.25"/>
<path class="k" stroke-width="0.9" transform="translate(1954.40,514.20)" d="M-3.75 0H3.75M-2.3 -3.25L2.3 3.25M2.3 -3.25L-2.3 3.25"/>
<g transform="translate(1560.85,560.75)"><path d="M8.05 0.3Q-8.05 12.00 8.05 23.70Q-4.05 12.00 8.05 0.3Z"/><path d="M8.05 0.45Q-6.05 12.00 8.05 23.55" class="k" stroke-width="0.9"/></g>
<g transform="translate(1668.15,560.75) scale(-1,1)"><path d="M8.05 0.3Q-8.05 12.00 8.05 23.70Q-4.05 12.00 8.05 0.3Z"/><path d="M8.05 0.45Q-6.05 12.00 8.05 23.55" class="k" stroke-width="0.9"/></g>
<g transform="translate(1825.85,560.75)"><path d="M8.05 0.3Q-8.05 12.00 8.05 23.70Q-4.05 12.00 8.05 0.3Z"/><path d="M8.05 0.45Q-6.05 12.00 8.05 23.55" class="k" stroke-width="0.9"/></g>
<g transform="translate(1933.15,560.75) scale(-1,1)"><path d="M8.05 0.3Q-8.05 12.00 8.05 23.70Q-4.05 12.00 8.05 0.3Z"/><path d="M8.05 0.45Q-6.05 12.00 8.05 23.55" class="k" stroke-width="0.9"/></g>
<rect x="467.50" y="721.60" width="23.80" height="1.4"/>
<path class="k" stroke-width="0.9" transform="translate(607.10,712.20)" d="M-3.75 0H3.75M-2.3 -3.25L2.3 3.25M2.3 -3.25L-2.3 3.25"/>
<path class="k" stroke-width="0.9" transform="translate(617.60,712.20)" d="M-3.75 0H3.75M-2.3 -3.25L2.3 3.25M2.3 -3.25L-2.3 3.25"/>
<path class="k" stroke-width="0.9" transform="translate(628.10,712.20)" d="M-3.75 0H3.75M-2.3 -3.25L2.3 3.25M2.3 -3.25L-2.3 3.25"/>
<rect x="732.80" y="721.60" width="23.80" height="1.4"/>
<path class="k" stroke-width="0.9" transform="translate(855.90,712.20)" d="M-3.75 0H3.75M-2.3 -3.25L2.3 3.25M2.3 -3.25L-2.3 3.25"/>
<path class="k" stroke-width="0.9" transform="translate(866.40,712.20)" d="M-3.75 0H3.75M-2.3 -3.25L2.3 3.25M2.3 -3.25L-2.3 3.25"/>
<path class="k" stroke-width="0.9" transform="translate(876.90,712.20)" d="M-3.75 0H3.75M-2.3 -3.25L2.3 3.25M2.3 -3.25L-2.3 3.25"/>
<rect x="998.10" y="721.60" width="23.80" height="1.4"/>
<path class="k" stroke-width="0.9" transform="translate(1137.70,712.20)" d="M-3.75 0H3.75M-2.3 -3.25L2.3 3.25M2.3 -3.25L-2.3 3.25"/>
<path class="k" stroke-width="0.9" transform="translate(1148.20,712.20)" d="M-3.75 0H3.75M-2.3 -3.25L2.3 3.25M2.3 -3.25L-2.3 3.25"/>
<path class="k" stroke-width="0.9" transform="translate(1158.70,712.20)" d="M-3.75 0H3.75M-2.3 -3.25L2.3 3.25M2.3 -3.25L-2.3 3.25"/>
<rect x="1289.40" y="719.60" width="23.80" height="1.4"/>
<rect x="1528.80" y="721.60" width="23.80" height="1.4"/>
<path class="k" stroke-width="0.9" transform="translate(1668.40,712.20)" d="M-3.75 0H3.75M-2.3 -3.25L2.3 3.25M2.3 -3.25L-2.3 3.25"/>
<path class="k" stroke-width="0.9" transform="translate(1678.90,712.20)" d="M-3.75 0H3.75M-2.3 -3.25L2.3 3.25M2.3 -3.25L-2.3 3.25"/>
<path class="k" stroke-width="0.9" transform="translate(1689.40,712.20)" d="M-3.75 0H3.75M-2.3 -3.25L2.3 3.25M2.3 -3.25L-2.3 3.25"/>
<rect x="1793.80" y="721.60" width="23.80" height="1.4"/>
<path class="k" stroke-width="0.9" transform="translate(1933.40,712.20)" d="M-3.75 0H3.75M-2.3 -3.25L2.3 3.25M2.3 -3.25L-2.3 3.25"/>
<path class="k" stroke-width="0.9" transform="translate(1943.90,712.20)" d="M-3.75 0H3.75M-2.3 -3.25L2.3 3.25M2.3 -3.25L-2.3 3.25"/>
<path class="k" stroke-width="0.9" transform="translate(1954.40,712.20)" d="M-3.75 0H3.75M-2.3 -3.25L2.3 3.25M2.3 -3.25L-2.3 3.25"/>
<g transform="translate(499.55,759.75)"><path d="M8.05 0.3Q-8.05 12.00 8.05 23.70Q-4.05 12.00 8.05 0.3Z"/><path d="M8.05 0.45Q-6.05 12.00 8.05 23.55" class="k" stroke-width="0.9"/></g>
<g transform="translate(606.85,759.75) scale(-1,1)"><path d="M8.05 0.3Q-8.05 12.00 8.05 23.70Q-4.05 12.00 8.05 0.3Z"/><path d="M8.05 0.45Q-6.05 12.00 8.05 23.55" class="k" stroke-width="0.9"/></g>
<g transform="translate(764.85,759.75)"><path d="M8.05 0.3Q-8.05 12.00 8.05 23.70Q-4.05 12.00 8.05 0.3Z"/><path d="M8.05 0.45Q-6.05 12.00 8.05 23.55" class="k" stroke-width="0.9"/></g>
<g transform="translate(855.65,759.75) scale(-1,1)"><path d="M8.05 0.3Q-8.05 12.00 8.05 23.70Q-4.05 12.00 8.05 0.3Z"/><path d="M8.05 0.45Q-6.05 12.00 8.05 23.55" class="k" stroke-width="0.9"/></g>
<g transform="translate(1030.15,759.75)"><path d="M8.05 0.3Q-8.05 12.00 8.05 23.70Q-4.05 12.00 8.05 0.3Z"/><path d="M8.05 0.45Q-6.05 12.00 8.05 23.55" class="k" stroke-width="0.9"/></g>
<g transform="translate(1120.95,759.75) scale(-1,1)"><path d="M8.05 0.3Q-8.05 12.00 8.05 23.70Q-4.05 12.00 8.05 0.3Z"/><path d="M8.05 0.45Q-6.05 12.00 8.05 23.55" class="k" stroke-width="0.9"/></g>
<g transform="translate(1304.95,759.75)"><path d="M8.05 0.3Q-8.05 12.00 8.05 23.70Q-4.05 12.00 8.05 0.3Z"/><path d="M8.05 0.45Q-6.05 12.00 8.05 23.55" class="k" stroke-width="0.9"/></g>
<g transform="translate(1412.25,759.75) scale(-1,1)"><path d="M8.05 0.3Q-8.05 12.00 8.05 23.70Q-4.05 12.00 8.05 0.3Z"/><path d="M8.05 0.45Q-6.05 12.00 8.05 23.55" class="k" stroke-width="0.9"/></g>
<g transform="translate(1560.85,759.75)"><path d="M8.05 0.3Q-8.05 12.00 8.05 23.70Q-4.05 12.00 8.05 0.3Z"/><path d="M8.05 0.45Q-6.05 12.00 8.05 23.55" class="k" stroke-width="0.9"/></g>
<g transform="translate(1668.15,759.75) scale(-1,1)"><path d="M8.05 0.3Q-8.05 12.00 8.05 23.70Q-4.05 12.00 8.05 0.3Z"/><path d="M8.05 0.45Q-6.05 12.00 8.05 23.55" class="k" stroke-width="0.9"/></g>
<g transform="translate(1825.85,759.75)"><path d="M8.05 0.3Q-8.05 12.00 8.05 23.70Q-4.05 12.00 8.05 0.3Z"/><path d="M8.05 0.45Q-6.05 12.00 8.05 23.55" class="k" stroke-width="0.9"/></g>
<g transform="translate(1933.15,759.75) scale(-1,1)"><path d="M8.05 0.3Q-8.05 12.00 8.05 23.70Q-4.05 12.00 8.05 0.3Z"/><path d="M8.05 0.45Q-6.05 12.00 8.05 23.55" class="k" stroke-width="0.9"/></g>
</svg>
</div></body></html>
